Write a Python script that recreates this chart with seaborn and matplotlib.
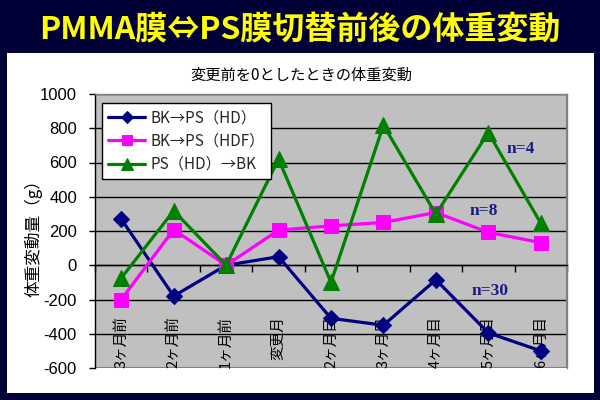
import numpy as np
import pandas as pd
import matplotlib
matplotlib.use("Agg")
import matplotlib.pyplot as plt
from matplotlib.patches import Rectangle
import seaborn as sns

# ---------------- data ----------------
categories = ["3ヶ月前", "2ヶ月前", "1ヶ月前", "変更月", "2ヶ月目",
              "3ヶ月目", "4ヶ月目", "5ヶ月目", "6ヶ月目"]
bk_ps_hd = [270, -180, 0, 50, -310, -350, -85, -395, -500]
bk_ps_hdf = [-200, 208, 0, 205, 230, 250, 308, 192, 132]
ps_hd_bk = [-75, 318, 0, 620, -100, 818, 298, 775, 245]
series_names = ["BK→PS（HD）", "BK→PS（HDF）", "PS（HD）→BK"]
n_labels = ["n=4", "n=8", "n=30"]
yticks = [-600, -400, -200, 0, 200, 400, 600, 800, 1000]

title = "PMMA膜⇔PS膜切替前後の体重変動"
subtitle = "変更前を0としたときの体重変動"
ylabel = "体重変動量（g）"

# ---------------- style ----------------
sns.set_theme(style="white")
plt.rcParams["font.family"] = ["Liberation Sans", "Noto Sans CJK JP", "DejaVu Sans"]
jp = ["Noto Sans CJK JP", "DejaVu Sans"]

fig = plt.figure(figsize=(6, 4), dpi=100, facecolor="#000036")
# white panel
fig.patches.append(Rectangle((7 / 600, 7 / 400), 587 / 600, 340 / 400,
                             transform=fig.transFigure, facecolor="white",
                             edgecolor="none", zorder=-10))

ax = fig.add_axes([95 / 600, 32 / 400, 472 / 600, 274 / 400])
ax.set_zorder(2)
ax.set_facecolor("#C0C0C0")

x_pos = np.arange(len(categories))
df = pd.DataFrame({"x": x_pos, "a": bk_ps_hd, "b": bk_ps_hdf, "c": ps_hd_bk})

colors = ["#000080", "#FF00FF", "#008000"]
markers = ["D", "s", "^"]
msizes = [8.5, 10, 12]
for col, name, c, m, ms in zip(["a", "b", "c"], series_names, colors, markers, msizes):
    sns.lineplot(data=df, x="x", y=col, ax=ax, color=c, marker=m,
                 markersize=ms, markeredgecolor=c, linewidth=2.3,
                 label=name, zorder=3)

ax.set_xlim(-0.5, len(categories) - 0.5)
ax.set_ylim(yticks[0], yticks[-1])
ax.set_yticks(yticks)
ax.set_yticklabels([str(v) for v in yticks], fontsize=12, color="black")
ax.yaxis.grid(True, color="black", linewidth=1)
ax.xaxis.grid(False)
ax.set_axisbelow(True)

# x axis crossing at 0 with ticks at category boundaries
ax.spines["bottom"].set_position(("data", 0))
ax.spines["bottom"].set_color("black")
ax.spines["left"].set_color("black")
ax.spines["top"].set_color("#808080")
ax.spines["right"].set_color("#808080")
for s in ax.spines.values():
    s.set_linewidth(1)
ax.add_patch(Rectangle((0, 0), 1, 1, transform=ax.transAxes, fill=False,
                       edgecolor="#808080", linewidth=1.5, zorder=1))
ax.set_xticks(np.arange(-0.5, len(categories), 1.0))
ax.tick_params(axis="x", direction="out", length=5, width=1, color="black",
               labelbottom=False, bottom=True)
ax.tick_params(axis="y", direction="out", length=4, width=1, color="black",
               left=True, pad=9)
ax.set_xlabel("")

trans = matplotlib.transforms.blended_transform_factory(ax.transData, ax.transAxes)
for i, cat in enumerate(categories):
    ax.text(i, 0.19, cat, rotation=90, ha="center", va="top", transform=trans,
            fontsize=10.5, family=jp, color="black", zorder=2)

ax.set_ylabel(ylabel, family=jp, fontsize=12, color="black")
ax.yaxis.set_label_coords(-0.112, 0.49)

leg = ax.legend(loc="upper left", bbox_to_anchor=(0.015, 0.967), borderaxespad=0,
                frameon=True, fancybox=False, framealpha=1, facecolor="white",
                edgecolor="black", handlelength=2.4,
                labelspacing=0.42, borderpad=0.4, handletextpad=0.4,
                markerscale=0.7, prop={"family": jp, "size": 11})
leg.get_frame().set_linewidth(1)

# n annotations
for txt, (xx, yy) in zip(n_labels, [(7.62, 680), (6.92, 315), (7.03, -150)]):
    ax.text(xx, yy, txt, ha="center", va="center", fontsize=12.5,
            fontweight="bold", family=["Liberation Serif"], color="#1a1a80", zorder=4)

fig.text(0.5, 1 - 30 / 400, title, ha="center", va="center", fontsize=23,
         fontweight="bold", color="#FFFF00", family=jp)
fig.text(0.502, 1 - 75 / 400, subtitle, ha="center", va="center", fontsize=11,
         color="black", family=jp)

fig.savefig("out.png", dpi=100, facecolor=fig.get_facecolor())
